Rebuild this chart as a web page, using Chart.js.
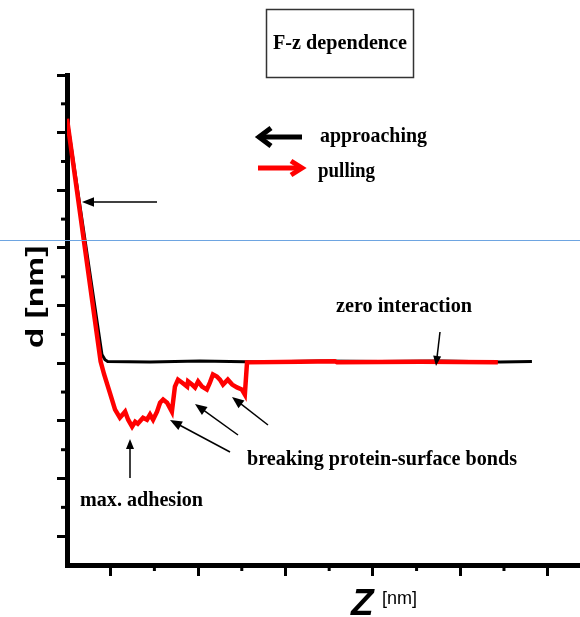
<!DOCTYPE html>
<html>
<head>
<meta charset="utf-8">
<script src="https://cdn.jsdelivr.net/npm/chart.js@4.4.1/dist/chart.umd.min.js"></script>
<style>
    html, body { margin: 0; padding: 0; background: #fff; }
    canvas { display: block; }
</style>
</head>
<body>
<canvas id="fzChart" width="580" height="617"></canvas>
<script>
// approaching curve (black)
const approachZ = [0.01, 0.80, 0.87, 0.93, 1.90, 3.04, 4.42, 5.79, 7.16, 8.54, 9.91, 10.64];
const approachD = [15.40, 7.30, 7.12, 7.06, 7.04, 7.08, 7.04, 7.08, 7.06, 7.08, 7.04, 7.06];

// pulling curve (red)
const pullZ = [0.00, 0.77, 0.85, 0.98, 1.10, 1.21, 1.33, 1.40, 1.49, 1.56, 1.62, 1.74,
    1.83, 1.90, 1.97, 2.06, 2.13, 2.20, 2.29, 2.40, 2.47, 2.54, 2.63, 2.75, 2.77, 2.86, 2.93, 3.00,
    3.09, 3.20, 3.27, 3.34, 3.43, 3.50, 3.57, 3.68, 3.78, 3.89, 4.00, 4.07, 4.12, 5.33, 6.13, 6.18,
    8.08, 9.86];
const pullD = [15.48, 7.06, 6.61, 5.98, 5.39, 5.11, 5.32, 5.04, 4.80, 4.97, 4.90, 5.11,
    5.04, 5.22, 5.04, 5.32, 5.63, 5.74, 5.63, 5.32, 6.19, 6.43, 6.33, 6.19, 6.37, 6.26, 6.16, 6.37,
    6.19, 6.09, 6.33, 6.61, 6.54, 6.43, 6.26, 6.43, 6.26, 6.16, 6.09, 5.91, 7.03, 7.05, 7.07, 7.03,
    7.05, 7.03];

// tick marks (no labels on either axis)
const zMajor = [1, 3, 5, 7, 9, 11];
const zMinor = [2, 4, 6, 8, 10];
const dMajor = [1, 3, 5, 7, 9, 11, 13, 15, 17];
const dMinor = [2, 4, 6, 8, 10, 12, 14, 16];

const toPoints = (xs, ys) => xs.map((x, i) => ({ x: x, y: ys[i] }));

const serif = "bold 21px 'Liberation Serif', 'DejaVu Serif', serif";

function text(ctx, str, x, y, font, maxW) {
    ctx.font = font;
    ctx.fillStyle = "#000";
    ctx.textAlign = "left";
    ctx.textBaseline = "alphabetic";
    ctx.fillText(str, x, y, maxW);
}

function arrow(ctx, x1, y1, x2, y2, head, color, width) {
    const a = Math.atan2(y2 - y1, x2 - x1);
    ctx.strokeStyle = color;
    ctx.fillStyle = color;
    ctx.lineWidth = width;
    ctx.beginPath();
    ctx.moveTo(x1, y1);
    ctx.lineTo(x2 - Math.cos(a) * head * 0.8, y2 - Math.sin(a) * head * 0.8);
    ctx.stroke();
    ctx.beginPath();
    ctx.moveTo(x2, y2);
    ctx.lineTo(x2 - head * Math.cos(a) + head * 0.4 * Math.sin(a), y2 - head * Math.sin(a) - head * 0.4 * Math.cos(a));
    ctx.lineTo(x2 - head * Math.cos(a) - head * 0.4 * Math.sin(a), y2 - head * Math.sin(a) + head * 0.4 * Math.cos(a));
    ctx.closePath();
    ctx.fill();
}

const decorations = {
    id: "decorations",
    afterDraw(chart) {
        const ctx = chart.ctx;
        const xs = chart.scales.x;
        const ys = chart.scales.y;
        ctx.save();

        // minor ticks
        ctx.strokeStyle = "#000";
        ctx.lineWidth = 3;
        dMinor.forEach((v) => {
            const p = ys.getPixelForValue(v);
            ctx.beginPath();
            ctx.moveTo(xs.left - 6, p);
            ctx.lineTo(xs.left, p);
            ctx.stroke();
        });
        zMinor.forEach((v) => {
            const p = xs.getPixelForValue(v);
            ctx.beginPath();
            ctx.moveTo(p, ys.bottom);
            ctx.lineTo(p, ys.bottom + 6);
            ctx.stroke();
        });

        // title box
        ctx.strokeStyle = "#333";
        ctx.lineWidth = 1.5;
        ctx.strokeRect(266.5, 9.5, 147, 68);
        text(ctx, "F-z dependence", 273, 49, "bold 22px 'Liberation Serif', serif", 134);

        // legend
        ctx.lineCap = "butt";
        ctx.lineJoin = "miter";
        ctx.strokeStyle = "#000";
        ctx.lineWidth = 5;
        ctx.beginPath();
        ctx.moveTo(302, 137);
        ctx.lineTo(260, 137);
        ctx.stroke();
        ctx.beginPath();
        ctx.moveTo(271, 128);
        ctx.lineTo(259, 137);
        ctx.lineTo(271, 146);
        ctx.stroke();
        text(ctx, "approaching", 320, 142, serif, 107);

        ctx.strokeStyle = "#ff0000";
        ctx.beginPath();
        ctx.moveTo(258, 168);
        ctx.lineTo(300, 168);
        ctx.stroke();
        ctx.beginPath();
        ctx.moveTo(291, 161);
        ctx.lineTo(302, 168);
        ctx.lineTo(291, 175);
        ctx.stroke();
        text(ctx, "pulling", 318, 177, serif, 57);

        // annotations
        text(ctx, "zero interaction", 336, 312, serif, 136);
        text(ctx, "breaking protein-surface bonds", 247, 465, serif, 270);
        text(ctx, "max. adhesion", 80, 506, serif, 123);

        arrow(ctx, 157, 202, 82, 202, 12, "#000", 1.5);
        arrow(ctx, 440, 332, 436, 366, 10, "#000", 1.5);
        arrow(ctx, 130, 478, 130, 439, 10, "#000", 1.5);
        arrow(ctx, 230, 452, 170, 420, 12, "#000", 1.5);
        arrow(ctx, 238, 435, 195, 404, 12, "#000", 1.5);
        arrow(ctx, 268, 425, 232, 397, 12, "#000", 1.5);

        // axis titles
        ctx.save();
        ctx.translate(43, 297);
        ctx.rotate(-Math.PI / 2);
        ctx.scale(1.4, 1);
        ctx.font = "bold 24px 'Liberation Sans', Arial, sans-serif";
        ctx.textAlign = "center";
        ctx.textBaseline = "alphabetic";
        ctx.fillStyle = "#000";
        ctx.fillText("d [nm]", 0, 0);
        ctx.restore();

        text(ctx, "Z", 351, 615, "italic bold 37px 'Liberation Sans', Arial, sans-serif");
        text(ctx, "[nm]", 382, 604, "18px 'Liberation Sans', Arial, sans-serif", 35);

        // thin blue guide line across the picture
        ctx.strokeStyle = "rgb(110,165,225)";
        ctx.lineWidth = 1;
        ctx.beginPath();
        ctx.moveTo(0, 240.5);
        ctx.lineTo(chart.width, 240.5);
        ctx.stroke();

        ctx.restore();
    },
};

new Chart(document.getElementById("fzChart"), {
    type: "line",
    data: {
        datasets: [
            {
                label: "pulling",
                data: toPoints(pullZ, pullD),
                borderColor: "#ff0000",
                borderWidth: 4.5,
                pointRadius: 0,
                tension: 0,
                order: 1,
            },
            {
                label: "approaching",
                data: toPoints(approachZ, approachD),
                borderColor: "#000",
                borderWidth: 3,
                pointRadius: 0,
                tension: 0,
                order: 2,
            },
        ],
    },
    options: {
        responsive: false,
        animation: false,
        layout: { padding: { top: 75, left: 0, right: 0, bottom: 0 } },
        plugins: {
            legend: { display: false },
            tooltip: { enabled: false },
        },
        scales: {
            x: {
                type: "linear",
                min: 0,
                max: 11.74,
                afterBuildTicks: (scale) => { scale.ticks = zMajor.map((v) => ({ value: v })); },
                afterFit: (scale) => { scale.height = 52; },
                ticks: { display: false },
                grid: { drawOnChartArea: false, tickLength: 11, tickWidth: 3, tickColor: "#000" },
                border: { display: true, width: 5, color: "#000" },
            },
            y: {
                type: "linear",
                min: 0,
                max: 17,
                afterBuildTicks: (scale) => { scale.ticks = dMajor.map((v) => ({ value: v })); },
                afterFit: (scale) => { scale.width = 67; },
                ticks: { display: false },
                grid: { drawOnChartArea: false, tickLength: 10, tickWidth: 3, tickColor: "#000" },
                border: { display: true, width: 5, color: "#000" },
            },
        },
    },
    plugins: [decorations],
});
</script>
</body>
</html>
